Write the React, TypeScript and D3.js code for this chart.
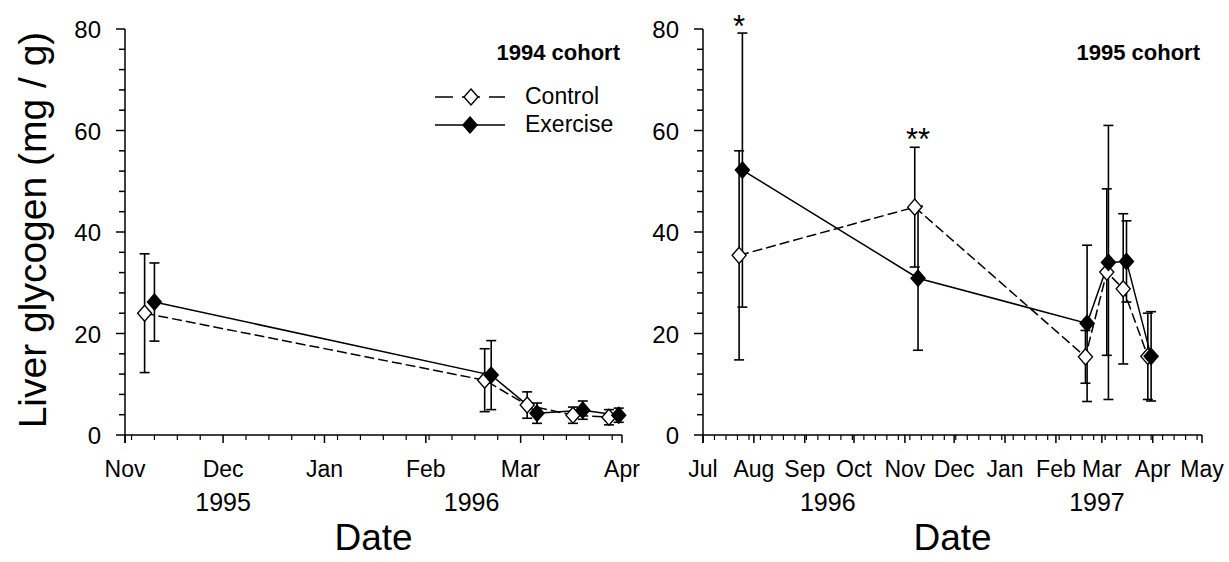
import React from 'react';
import * as d3 from 'd3';

const FONT = '"Liberation Sans", Arial, Helvetica, sans-serif';

// ---- 1994 cohort (left panel)
const ctrl94Dates = ['1995-11-07', '1996-02-19', '1996-03-03', '1996-03-17', '1996-03-28'];
const ctrl94Mean = [24.0, 10.8, 5.9, 3.9, 3.5];
const ctrl94Err = [11.7, 6.2, 2.6, 1.6, 1.5];
const exer94Dates = ['1995-11-10', '1996-02-21', '1996-03-06', '1996-03-20', '1996-03-31'];
const exer94Mean = [26.2, 11.8, 4.3, 4.9, 3.9];
const exer94Err = [7.7, 6.8, 2.0, 1.8, 1.4];

// ---- 1995 cohort (right panel)
const ctrl95Dates = ['1996-07-23', '1996-11-07', '1997-02-19', '1997-03-04', '1997-03-14', '1997-03-29'];
const ctrl95Mean = [35.4, 44.9, 15.4, 32.1, 28.8, 15.5];
const ctrl95Err = [20.6, 11.8, 5.2, 16.4, 14.8, 8.5];
const exer95Dates = ['1996-07-25', '1996-11-09', '1997-02-20', '1997-03-05', '1997-03-16', '1997-03-31'];
const exer95Mean = [52.2, 30.9, 22.0, 34.0, 34.2, 15.5];
const exer95Err = [27.0, 14.2, 15.4, 27.0, 8.0, 8.8];

// significance marks (date, value of top of bar, text)
const star95Dates = ['1996-07-23', '1996-11-09'];
const star95Values = [79, 56.7];
const star95Text = ['*', '**'];

// axes
const yTicks = [0, 20, 40, 60, 80];
const yMinorStep = 4;
const left94Domain = ['1995-11-01', '1996-04-01'];
const right95Domain = ['1996-07-01', '1997-05-01'];
const years94 = ['1995', '1996'];
const years94At = ['1995-12-01', '1996-02-15'];
const years95 = ['1996', '1997'];
const years95At = ['1996-09-15', '1997-02-26'];

const parse = d3.timeParse('%Y-%m-%d');
const monthFmt = d3.timeFormat('%b');

type Series = { dates: string[]; mean: number[]; err: number[]; open: boolean };

const yScale = d3.scaleLinear().domain([0, 80]).range([435, 29]);

function diamond(cx: number, cy: number, rx = 7, ry = 8) {
  const p = d3.path();
  p.moveTo(cx, cy - ry);
  p.lineTo(cx + rx, cy);
  p.lineTo(cx, cy + ry);
  p.lineTo(cx - rx, cy);
  p.closePath();
  return p.toString();
}

const Panel = ({
  range, domain, series, title, years, yearsAt, weekday, showLegend, stars,
}: {
  range: [number, number];
  domain: string[];
  series: Series[];
  title: string;
  years: string[];
  yearsAt: string[];
  weekday: d3.CountableTimeInterval;
  showLegend?: boolean;
  stars?: { dates: string[]; values: number[]; text: string[] };
}) => {
  const x = d3.scaleTime().domain(domain.map(d => parse(d)!)).range(range);
  const y = yScale;
  const [d0, d1] = x.domain();
  const months = d3.timeMonth.range(d0, d3.timeDay.offset(d1, 1));
  const weeks = weekday.range(d0, d1).filter(w => !months.some(m => +m === +w));
  const minorY = d3.range(0, 81, yMinorStep).filter(v => !yTicks.includes(v));
  const axisX = range[0];
  const line = d3.line<[number, number]>().x(d => d[0]).y(d => d[1]);

  return (
    <g>
      {/* error bars */}
      {series.map((s, si) => (
        <g key={'e' + si}>
          {s.dates.map((d, i) => {
            const cx = x(parse(d)!);
            const hi = y(s.mean[i] + s.err[i]);
            const lo = y(Math.max(0, s.mean[i] - s.err[i]));
            return (
              <g key={i} stroke="#000" strokeWidth={1.6}>
                <line x1={cx} x2={cx} y1={hi} y2={lo} />
                <line x1={cx - 5} x2={cx + 5} y1={hi} y2={hi} />
                <line x1={cx - 5} x2={cx + 5} y1={lo} y2={lo} />
              </g>
            );
          })}
        </g>
      ))}
      {/* lines */}
      {series.map((s, si) => (
        <path
          key={'l' + si}
          d={line(s.dates.map((d, i) => [x(parse(d)!), y(s.mean[i])]))!}
          fill="none"
          stroke="#000"
          strokeWidth={1.5}
          strokeDasharray={s.open ? '10,4' : undefined}
        />
      ))}
      {/* markers */}
      {series.map((s, si) => (
        <g key={'m' + si}>
          {s.dates.map((d, i) => (
            <path
              key={i}
              d={diamond(x(parse(d)!), y(s.mean[i]))}
              fill={s.open ? '#fff' : '#000'}
              stroke="#000"
              strokeWidth={1.4}
            />
          ))}
        </g>
      ))}
      {/* y axis */}
      <g stroke="#000" strokeWidth={1.5}>
        <line x1={axisX} x2={axisX} y1={y(0) + 8} y2={y(80)} />
        {yTicks.map(t => (
          <line key={t} x1={axisX - 9} x2={axisX} y1={y(t)} y2={y(t)} />
        ))}
        {minorY.map(t => (
          <line key={t} x1={axisX - 6} x2={axisX} y1={y(t)} y2={y(t)} />
        ))}
      </g>
      {yTicks.map(t => (
        <text key={t} x={axisX - 24} y={y(t) + 9} textAnchor="end" fontSize={24} fontFamily={FONT} fill="#000">
          {t}
        </text>
      ))}
      {/* x axis */}
      <g stroke="#000" strokeWidth={1.5}>
        <line x1={range[0]} x2={range[1]} y1={y(0)} y2={y(0)} />
        {months.map(m => (
          <line key={+m} x1={x(m)} x2={x(m)} y1={y(0)} y2={y(0) + 8} />
        ))}
        {weeks.map(w => (
          <line key={+w} x1={x(w)} x2={x(w)} y1={y(0)} y2={y(0) + 5} strokeWidth={1.2} />
        ))}
      </g>
      {months.map(m => (
        <text key={+m} x={x(m)} y={477} textAnchor="middle" fontSize={23} fontFamily={FONT} fill="#000">
          {monthFmt(m)}
        </text>
      ))}
      {years.map((yr, i) => (
        <text key={yr} x={x(parse(yearsAt[i])!)} y={511} textAnchor="middle" fontSize={25} fontFamily={FONT} fill="#000">
          {yr}
        </text>
      ))}
      <text x={(range[0] + range[1]) / 2} y={550} textAnchor="middle" fontSize={37} fontFamily={FONT} fill="#000">
        Date
      </text>
      {/* cohort title */}
      <text x={range[1] - 2} y={60} textAnchor="end" fontSize={22} fontWeight="bold" fontFamily={FONT} fill="#000">
        {title}
      </text>
      {stars &&
        stars.dates.map((d, i) => (
          <text key={i} x={x(parse(d)!)} y={y(stars.values[i]) + 3} textAnchor="middle" fontSize={31} fontFamily={FONT} fill="#000">
            {stars.text[i]}
          </text>
        ))}
      {showLegend && (
        <g fontFamily={FONT} fontSize={23}>
          <line x1={435} x2={505} y1={97} y2={97} stroke="#000" strokeWidth={1.5} strokeDasharray="18,9" />
          <path d={diamond(471, 97)} fill="#fff" stroke="#000" strokeWidth={1.4} />
          <text x={525} y={104}>Control</text>
          <line x1={435} x2={505} y1={125} y2={125} stroke="#000" strokeWidth={1.5} />
          <path d={diamond(470, 125)} fill="#000" stroke="#000" strokeWidth={1.4} />
          <text x={525} y={132}>Exercise</text>
        </g>
      )}
    </g>
  );
};

export default function App() {
  const s94: Series[] = [
    { dates: ctrl94Dates, mean: ctrl94Mean, err: ctrl94Err, open: true },
    { dates: exer94Dates, mean: exer94Mean, err: exer94Err, open: false },
  ];
  const s95: Series[] = [
    { dates: ctrl95Dates, mean: ctrl95Mean, err: ctrl95Err, open: true },
    { dates: exer95Dates, mean: exer95Mean, err: exer95Err, open: false },
  ];
  return (
    <svg
      width={1229}
      height={562}
      style={{ position: 'absolute', left: 0, top: 0, background: '#fff' }}
    >
      <rect width={1229} height={562} fill="#fff" />
      <text
        transform="translate(46,230) rotate(-90)"
        textAnchor="middle"
        fontSize={39}
        fontFamily={FONT}
        fill="#000"
      >
        Liver glycogen (mg / g)
      </text>
      <Panel
        range={[125, 622]}
        domain={left94Domain}
        series={s94}
        title="1994 cohort"
        years={years94}
        yearsAt={years94At}
        weekday={d3.timeFriday}
        showLegend
      />
      <Panel
        range={[703, 1202]}
        domain={right95Domain}
        series={s95}
        title="1995 cohort"
        years={years95}
        yearsAt={years95At}
        weekday={d3.timeMonday}
        stars={{ dates: star95Dates, values: star95Values, text: star95Text }}
      />
    </svg>
  );
}
